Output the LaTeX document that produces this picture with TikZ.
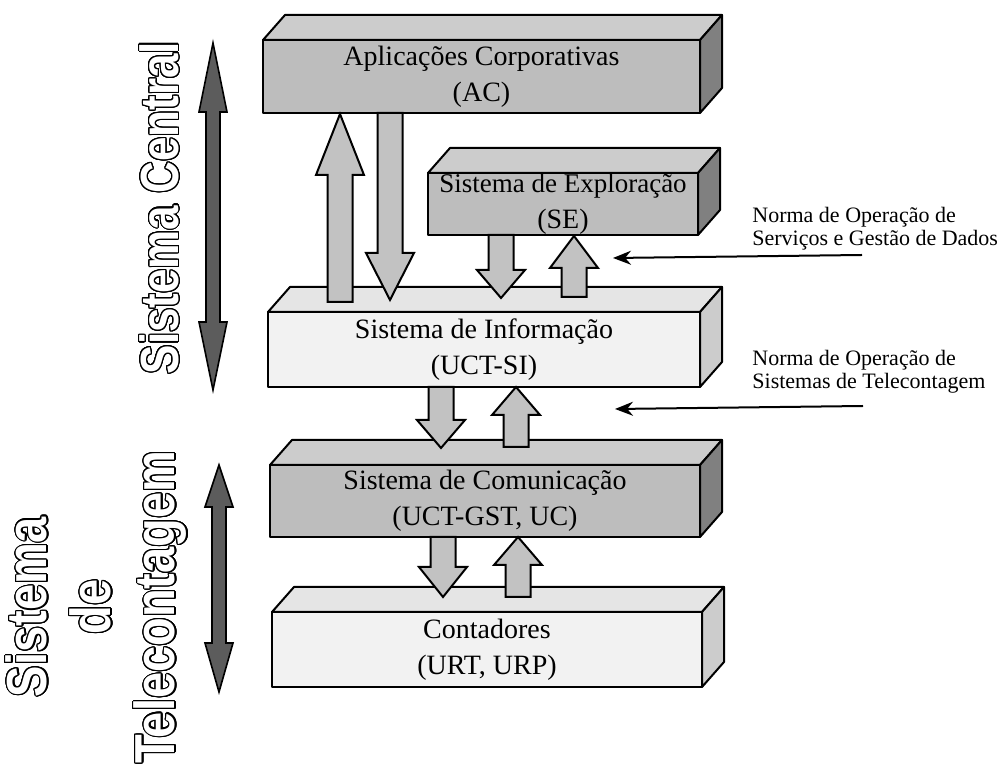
\documentclass[tikz,border=0pt]{standalone}
\usepackage{fontspec}
\setmainfont{Liberation Serif}
\newfontfamily\vazada{Liberation Sans}
\usepackage{contour}
\contourlength{0.55pt}
\contournumber{24}
\usetikzlibrary{calc,arrows.meta}

\definecolor{cinzaF}{gray}{0.74}
\definecolor{cinzaT}{gray}{0.80}
\definecolor{cinzaS}{gray}{0.50}
\definecolor{claroF}{gray}{0.95}
\definecolor{claroT}{gray}{0.90}
\definecolor{claroS}{gray}{0.80}
\definecolor{setaC}{gray}{0.76}
\definecolor{escuro}{gray}{0.36}

\tikzset{
  face/.style={draw=black, line width=1pt, line join=round},
  rotulo/.style={align=center, inner sep=0pt, font=\fontsize{14}{18}\selectfont},
  nota/.style={align=left, anchor=west, inner sep=0pt, font=\fontsize{11}{11.5}\selectfont},
  setabloco/.style={draw=black, line width=1pt, fill=setaC},
  setadupla/.style={draw=black, line width=0.8pt, fill=escuro},
  titulo/.style={rotate=90, align=center, inner sep=0pt, text=white},
}

% caixa 3D: frente (x1,y1)(x2,y2), cor, nome, texto
\def\bloco(#1,#2)(#3,#4)#5#6#7{%
  \draw[face, fill=#5T] (#1,#2) -- ++(22,-25) -- (#3+22,#2-25) -- (#3,#2) -- cycle;
  \draw[face, fill=#5S] (#3,#2) -- (#3+22,#2-25) -- (#3+22,#4-25) -- (#3,#4) -- cycle;
  \draw[face, fill=#5F] (#1,#2) rectangle (#3,#4);
  \node[rotulo] (#6) at ({(#1+#3)/2},{(#2+#4)/2}) {#7};
}
% seta larga: x, cauda, base da ponta, ponta
\def\seta#1#2#3#4{%
  \draw[setabloco] (#1-12.5,#2) -- (#1-12.5,#3) -- (#1-24,#3) -- (#1,#4)
    -- (#1+24,#3) -- (#1+12.5,#3) -- (#1+12.5,#2) -- cycle;
}
% seta dupla escura
\def\setadupla#1#2#3#4#5{%
  \draw[setadupla] (#1,#2) -- (#1+14,#3) -- (#1+7,#3) -- (#1+7,#4) -- (#1+14,#4) -- (#1,#5)
    -- (#1-14,#4) -- (#1-7,#4) -- (#1-7,#3) -- (#1-14,#3) -- cycle;
}

\begin{document}
\begin{tikzpicture}[x=0.5pt, y=-0.5pt]
		%%%%% START %%%%%
		\useasboundingbox (0,0) rectangle (1008,774);
		
		\bloco(263,40)(700,113){cinza}{ac}{Aplicações Corporativas\\(AC)}
		\bloco(428,173)(698,235){cinza}{se}{\fontsize{13.5}{15}\selectfont Sistema de Exploração\\(SE)}
		\bloco(268,312)(700,387){claro}{si}{Sistema de Informação\\(UCT-SI)}
		\bloco(270,465)(700,537){cinza}{gst}{Sistema de Comunicação\\(UCT-GST, UC)}
		\bloco(272,612)(702,687){claro}{cont}{Contadores\\(URT, URP)}
		
		\seta{340}{302}{175}{114}
		\seta{390}{113}{253}{300}
		\seta{501}{235}{270}{298}
		\seta{574}{297}{268}{236}
		\seta{441}{387}{420}{448}
		\seta{516}{447}{415}{387}
		\seta{443}{537}{567}{597}
		\seta{518}{597}{565}{537}
		
		\setadupla{213}{43}{112}{322}{390}
		\setadupla{219}{465}{507}{643}{692}
		
		\node[titulo, font=\vazada\bfseries\fontsize{22}{22}\selectfont] (central) at (160,208)
			{\scalebox{1}[1.22]{\contour{black}{Sistema Central}}};
		\node[titulo, font=\vazada\bfseries\fontsize{23.5}{32}\selectfont] (tele) at (97,607)
			{\scalebox{1}[1.2]{\contour{black}{Sistema}}\\
			 \scalebox{1}[1.2]{\contour{black}{de}}\\
			 \scalebox{1}[1.2]{\contour{black}{Telecontagem}}};
		
		\node[nota] (nota1) at (752,229) {Norma de Operação de\\Serviços e Gestão de Dados};
		\coordinate (n1a) at (862,255);
		\coordinate (n1b) at (613,258);
		\draw[line width=1pt, -{Stealth[length=9pt, width=7pt]}] (n1a) -- (n1b);
		
		\node[nota] (nota2) at (752,372) {Norma de Operação de\\Sistemas de Telecontagem};
		\coordinate (n2a) at (863,406);
		\coordinate (n2b) at (615,409);
		\draw[line width=1pt, -{Stealth[length=9pt, width=7pt]}] (n2a) -- (n2b);
		
		%%%%% END %%%%%
	\end{tikzpicture}
\end{document}
